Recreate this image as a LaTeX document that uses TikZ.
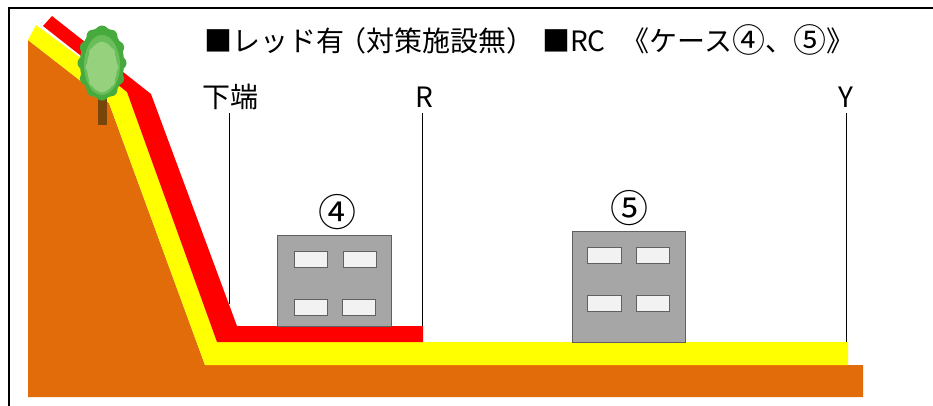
\documentclass[tikz,border=0pt]{standalone}
\usepackage{fontspec}
\newfontfamily\jpfont{Noto Sans CJK JP}
\definecolor{soil}{RGB}{227,108,10}
\definecolor{bandY}{RGB}{255,255,0}
\definecolor{bandR}{RGB}{255,0,0}
\definecolor{bldg}{RGB}{166,166,166}
\definecolor{bldgline}{RGB}{96,96,96}
\definecolor{win}{RGB}{242,242,242}
\definecolor{leafDark}{RGB}{70,170,60}
\definecolor{leafMid}{RGB}{105,190,90}
\definecolor{leafLight}{RGB}{150,210,125}
\definecolor{trunk}{RGB}{120,70,10}
\newcommand{\casenum}[1]{{\fontsize{33}{28}\selectfont\raisebox{-1pt}{#1}}}
\begin{document}
\begin{tikzpicture}[x=1pt,y=-1pt,
  label/.style={font=\jpfont\fontsize{28}{28}\selectfont, inner sep=0pt},
  num/.style={font=\jpfont\fontsize{38}{38}\selectfont, inner sep=0pt},
  building/.style={fill=bldg, draw=bldgline, line width=0.8pt},
  window/.style={fill=win, draw=bldgline, line width=0.6pt},
  guide/.style={draw=black, line width=1pt}]
\useasboundingbox (0,0) rectangle (933,405);
\fill[white] (0,0) rectangle (933,405);
% frame
\draw[line width=2pt] (9,406) -- (9,8) -- (934,8);

% ground
\fill[soil] (28,40) -- (109,103) -- (205,365) -- (863,365) -- (863,397) -- (28,397) -- cycle;
% yellow zone
\fill[bandY] (28,40) -- (36,25) -- (127,92) -- (217,342) -- (848,342) -- (848,365)
  -- (205,365) -- (109,103) -- cycle;
% red zone
\fill[bandR] (52,16) -- (151,94) -- (237,326) -- (423,326) -- (423,342) -- (217,342)
  -- (127,92) -- (43,26) -- cycle;

% tree
\fill[trunk] (98,95) rectangle (107,125);
\fill[leafDark] (102,63) ellipse [x radius=22, y radius=36];
\foreach \a in {0,30,...,330}
  \fill[leafDark] ({102+18*cos(\a)},{63+31*sin(\a)}) circle (6.5);
\fill[leafMid] (102,65) ellipse [x radius=18, y radius=30];
\fill[leafLight] (102,67) ellipse [x radius=15, y radius=25];
\foreach \a in {0,45,...,315}
  \fill[leafLight] ({102+12*cos(\a)},{67+21*sin(\a)}) circle (4.5);

% building 4
\node[building, minimum width=114pt, minimum height=91pt, inner sep=0pt] (b4) at (334,280.5) {};
\node[window, minimum width=33pt, minimum height=16pt, inner sep=0pt] (b4w1) at (310.5,259) {};
\node[window, minimum width=33pt, minimum height=16pt, inner sep=0pt] (b4w2) at (359.5,259) {};
\node[window, minimum width=33pt, minimum height=16pt, inner sep=0pt] (b4w3) at (310.5,307) {};
\node[window, minimum width=33pt, minimum height=16pt, inner sep=0pt] (b4w4) at (358.5,307) {};
% building 5
\node[building, minimum width=113pt, minimum height=111pt, inner sep=0pt] (b5) at (628.5,286.5) {};
\node[window, minimum width=34pt, minimum height=16pt, inner sep=0pt] (b5w1) at (604,255) {};
\node[window, minimum width=33pt, minimum height=16pt, inner sep=0pt] (b5w2) at (652.5,255) {};
\node[window, minimum width=34pt, minimum height=16pt, inner sep=0pt] (b5w3) at (604,303) {};
\node[window, minimum width=33pt, minimum height=16pt, inner sep=0pt] (b5w4) at (652.5,303) {};

% numbers
\node[num] (n4) at (337,212) {④};
\node[num] (n5) at (629,208) {⑤};

% title
\node[label, anchor=west] (title) at (204,40) {■レッド有\kern-6pt（対策施設無）\kern8pt■RC\kern16pt《ケース\casenum{④}、\casenum{⑤}》};

% guide lines and their labels
\node[label] (lk) at (230,97) {下端};
\node[label] (lr) at (424,97) {R};
\node[label] (ly) at (846,97) {Y};
\coordinate (kTop) at (229,113);
\coordinate (kBot) at (229,304);
\coordinate (rTop) at (422,113);
\coordinate (rBot) at (422,326);
\coordinate (yTop) at (846,113);
\coordinate (yBot) at (846,342);
\draw[guide] (kTop) -- (kBot);
\draw[guide] (rTop) -- (rBot);
\draw[guide] (yTop) -- (yBot);
\end{tikzpicture}
\end{document}
